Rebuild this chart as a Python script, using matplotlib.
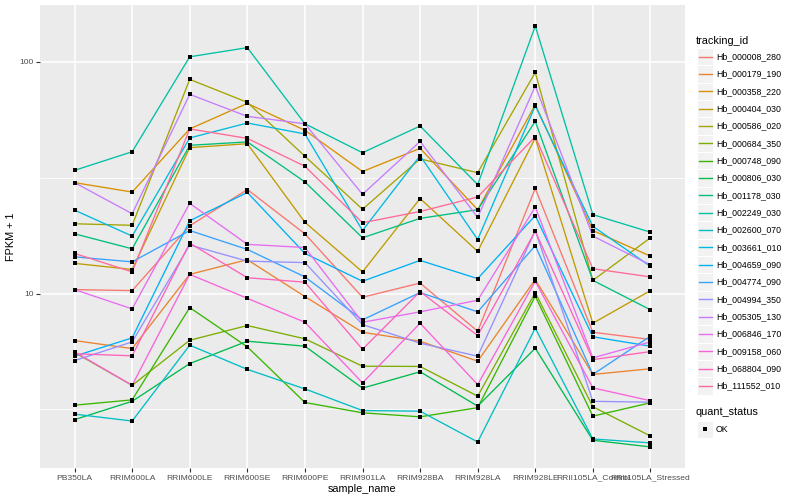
import numpy as np
import matplotlib
matplotlib.use("Agg")
import matplotlib.pyplot as plt
from matplotlib.patches import Rectangle
from matplotlib.lines import Line2D
from matplotlib.ticker import NullFormatter

plt.rcParams['font.family'] = ['Liberation Sans', 'DejaVu Sans']

samples = ['PB350LA', 'RRIM600LA', 'RRIM600LE', 'RRIM600SE', 'RRIM600PE',
           'RRIM901LA', 'RRIM928BA', 'RRIM928LA', 'RRIM928LE',
           'RRII105LA_Control', 'RRII105LA_Stressed']

tracking_ids = ['Hb_000008_280', 'Hb_000179_190', 'Hb_000358_220', 'Hb_000404_030',
                'Hb_000586_020', 'Hb_000684_350', 'Hb_000748_090', 'Hb_000806_030',
                'Hb_001178_030', 'Hb_002249_030', 'Hb_002600_070', 'Hb_003661_010',
                'Hb_004659_090', 'Hb_004774_090', 'Hb_004994_350', 'Hb_005305_130',
                'Hb_006846_170', 'Hb_009158_060', 'Hb_068804_090', 'Hb_111552_010']

# FPKM + 1 per sample
hb_000008_280 = [10.4, 10.3, 19.6, 28.1, 18.1, 9.64, 11.1, 6.88, 28.4, 6.81, 6.34]
hb_000179_190 = [6.27, 5.79, 12.1, 14.0, 9.71, 6.81, 6.23, 5.11, 11.5, 4.48, 4.74]
hb_000358_220 = [30.1, 27.4, 51.3, 66.1, 50.6, 33.6, 42.3, 23.0, 65.3, 18.7, 14.5]
hb_000404_030 = [13.5, 12.7, 42.6, 44.3, 20.3, 12.4, 25.7, 15.2, 46.9, 7.45, 10.3]
hb_000586_020 = [20.0, 19.7, 83.9, 66.8, 39.1, 23.1, 38.1, 33.2, 89.9, 11.4, 17.4]
hb_000684_350 = [5.57, 4.02, 6.29, 7.28, 6.38, 4.86, 4.85, 3.61, 10.1, 3.25, 2.43]
hb_000748_090 = [3.30, 3.48, 8.70, 5.89, 3.39, 3.06, 2.94, 3.22, 9.74, 2.96, 3.38]
hb_000806_030 = [2.86, 3.43, 4.99, 6.23, 5.93, 3.91, 4.60, 3.27, 5.81, 2.33, 2.18]
hb_001178_030 = [18.1, 15.6, 43.6, 45.1, 30.3, 17.4, 21.1, 23.0, 55.3, 11.4, 8.51]
hb_002249_030 = [34.0, 40.9, 105.0, 115.0, 54.0, 40.5, 52.8, 29.5, 142.5, 21.9, 18.4]
hb_002600_070 = [3.02, 2.82, 5.99, 4.71, 3.88, 3.13, 3.11, 2.29, 7.09, 2.36, 2.27]
hb_003661_010 = [22.9, 17.7, 46.9, 54.4, 48.8, 18.7, 39.3, 17.1, 64.6, 19.5, 13.1]
hb_004659_090 = [5.37, 6.44, 20.6, 27.3, 14.9, 11.3, 13.9, 11.6, 21.7, 6.51, 5.93]
hb_004774_090 = [14.4, 13.7, 18.7, 15.5, 11.8, 7.70, 10.1, 8.34, 16.1, 4.48, 6.55]
hb_004994_350 = [5.14, 6.19, 16.2, 13.8, 13.6, 7.35, 6.11, 5.37, 18.7, 3.43, 3.40]
hb_005305_130 = [30.1, 22.1, 72.3, 58.1, 54.0, 26.8, 45.3, 21.3, 78.6, 17.7, 13.3]
hb_006846_170 = [10.4, 8.59, 24.5, 16.3, 15.8, 7.52, 8.34, 9.36, 23.6, 5.28, 6.19]
hb_009158_060 = [5.61, 4.02, 12.1, 9.54, 7.52, 4.12, 7.45, 4.05, 11.3, 3.92, 3.45]
hb_068804_090 = [5.50, 5.39, 16.5, 11.7, 11.2, 5.75, 10.2, 6.59, 18.6, 5.19, 5.62]
hb_111552_010 = [14.9, 12.4, 51.3, 46.7, 35.4, 20.2, 22.6, 26.1, 47.5, 12.8, 11.8]

series = [hb_000008_280, hb_000179_190, hb_000358_220, hb_000404_030, hb_000586_020,
          hb_000684_350, hb_000748_090, hb_000806_030, hb_001178_030, hb_002249_030,
          hb_002600_070, hb_003661_010, hb_004659_090, hb_004774_090, hb_004994_350,
          hb_005305_130, hb_006846_170, hb_009158_060, hb_068804_090, hb_111552_010]


def hue_colour(h, c=100.0, l=65.0):
    # same as R's hcl(h, c, l) -> sRGB, what ggplot's hue palette uses
    hr = np.deg2rad(h)
    U, V = c * np.cos(hr), c * np.sin(hr)
    Xn, Yn, Zn = 95.047, 100.0, 108.883
    Y = Yn * ((l + 16) / 116) ** 3
    den = Xn + 15 * Yn + 3 * Zn
    u = U / (13 * l) + 4 * Xn / den
    v = V / (13 * l) + 9 * Yn / den
    X = 9.0 * Y * u / (4 * v)
    Z = -X / 3 - 5 * Y + 3 * Y / v
    m = np.array([[3.240479, -1.537150, -0.498535],
                  [-0.969256, 1.875992, 0.041556],
                  [0.055648, -0.204043, 1.057311]])
    rgb = m @ (np.array([X, Y, Z]) / 100.0)
    out = []
    for ch in rgb:
        ch = 1.055 * ch ** (1 / 2.4) - 0.055 if ch > 0.0031308 else 12.92 * ch
        out.append(min(max(ch, 0.0), 1.0))
    return tuple(out)


hues = np.linspace(15, 375, len(tracking_ids) + 1)[:-1]
colours = [hue_colour(h) for h in hues]

W, H = 800, 500
fig = plt.figure(figsize=(8, 5), dpi=100)
ax = fig.add_axes([40 / W, 1 - 468 / H, 645 / W, 463 / H])
ax.set_facecolor('#EBEBEB')

x = np.arange(len(samples))
for vals, col in zip(series, colours):
    ax.plot(x, vals, color=col, lw=0.95, zorder=2)
for vals in series:
    ax.plot(x, vals, 's', color='black', ms=2.9, mew=0, zorder=3)

ax.set_yscale('log')
allv = np.concatenate([np.array(s) for s in series])
lo, hi = np.log10(allv.min()), np.log10(allv.max())
pad = 0.05 * (hi - lo)
ax.set_ylim(10 ** (lo - pad), 10 ** (hi + pad))
ax.set_xlim(-0.6, len(samples) - 0.4)

ax.set_yticks([10, 100])
ax.set_yticklabels(['10', '100'])
ax.set_yticks([10 ** 0.5, 10 ** 1.5], minor=True)
ax.yaxis.set_minor_formatter(NullFormatter())
ax.set_xticks(x)
ax.set_xticklabels(samples)

ax.grid(which='major', color='white', lw=1.1)
ax.grid(which='minor', axis='y', color='white', lw=0.55)
ax.set_axisbelow(True)
for sp in ax.spines.values():
    sp.set_visible(False)
ax.tick_params(which='major', color='#333333', length=2.7, width=0.8,
               labelcolor='#4D4D4D', labelsize=6.1, pad=2)
ax.tick_params(which='minor', length=0)

ax.set_xlabel('sample_name', fontsize=7.8, labelpad=2)
ax.set_ylabel('FPKM + 1', fontsize=7.8, labelpad=2)


# legends, placed in figure pixels like ggplot's guide boxes
def fx(px):
    return px / W


def fy(py):
    return 1 - py / H


key_l, key_w, key_h = 697, 16, 17.33
fig.text(fx(696), fy(40.5), 'tracking_id', fontsize=7.8, va='center', ha='left')
for i, (name, col) in enumerate(zip(tracking_ids, colours)):
    cy = 56.7 + key_h * i
    fig.add_artist(Rectangle((fx(key_l), fy(cy + key_h / 2)), key_w / W, key_h / H,
                             transform=fig.transFigure, facecolor='#F2F2F2',
                             edgecolor='white', lw=0.8))
    fig.add_artist(Line2D([fx(key_l + 1.5), fx(key_l + key_w - 1.5)], [fy(cy), fy(cy)],
                          transform=fig.transFigure, color=col, lw=1.0))
    fig.text(fx(716), fy(cy), name, fontsize=6.3, va='center', ha='left')

fig.text(fx(696), fy(411.7), 'quant_status', fontsize=7.8, va='center', ha='left')
fig.add_artist(Rectangle((fx(key_l), fy(429.3 + key_h / 2)), key_w / W, key_h / H,
                         transform=fig.transFigure, facecolor='#F2F2F2',
                         edgecolor='white', lw=0.8))
fig.add_artist(Line2D([fx(key_l + key_w / 2)], [fy(429.3)], transform=fig.transFigure,
                      marker='s', color='black', ms=2.9, mew=0, ls='none'))
fig.text(fx(716), fy(429.3), 'OK', fontsize=6.3, va='center', ha='left')

fig.savefig('out.png', dpi=100)
